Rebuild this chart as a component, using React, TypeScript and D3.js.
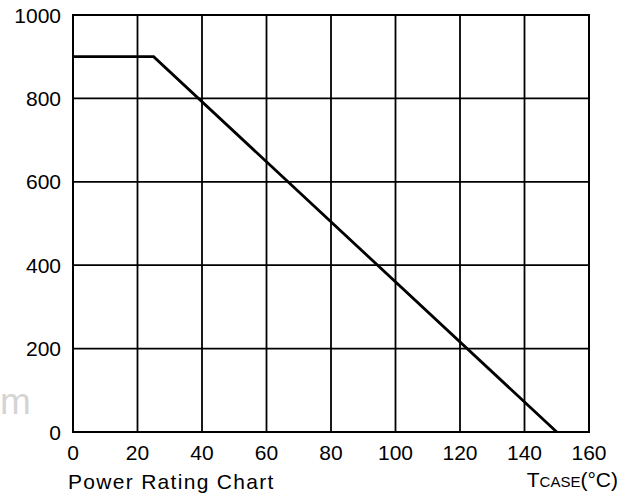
import React from "react";
import * as d3 from "d3";

const xTicks = [0, 20, 40, 60, 80, 100, 120, 140, 160];
const yTicks = [0, 200, 400, 600, 800, 1000];
const curveT = [0, 25, 150];
const curveP = [900, 900, 0];

const W = 620, H = 496;
const L = 73, R = 589, T = 15, B = 432;

export default function App() {
  const x = d3.scaleLinear().domain([0, 160]).range([L, R]);
  const y = d3.scaleLinear().domain([0, 1000]).range([B, T]);
  const pts: [number, number][] = curveT.map((t, i) => [t, curveP[i]]);
  const line = d3.line<[number, number]>().x(d => x(d[0])).y(d => y(d[1]));
  const font = "'Liberation Sans', Arial, sans-serif";
  return (
    <svg width={W} height={H} style={{ position: "absolute", left: 0, top: 0, background: "#fff" }}>
      <text x={0} y={414} fontFamily={font} fontSize={37} fill="#d4d4d4">m</text>
      {xTicks.map(t => (
        <line key={"gx" + t} x1={x(t)} x2={x(t)} y1={T} y2={B} stroke="#000" strokeWidth={1.8} />
      ))}
      {yTicks.map(t => (
        <line key={"gy" + t} x1={L} x2={R} y1={y(t)} y2={y(t)} stroke="#000" strokeWidth={1.8} />
      ))}
      <rect x={L} y={T} width={R - L} height={B - T} fill="none" stroke="#000" strokeWidth={2} />
      <path d={line(pts) || ""} fill="none" stroke="#000" strokeWidth={2.8} />
      {yTicks.map(t => (
        <text key={"ty" + t} x={61} y={y(t) + 7.5} textAnchor="end" fontFamily={font} fontSize={21} fill="#000">{t}</text>
      ))}
      {xTicks.map(t => (
        <text key={"tx" + t} x={x(t)} y={460} textAnchor="middle" fontFamily={font} fontSize={21} fill="#000">{t}</text>
      ))}
      <text x={68} y={489} fontFamily={font} fontSize={21} letterSpacing={1.3} fill="#000">Power Rating Chart</text>
      <text x={618} y={487} textAnchor="end" fontFamily={font} fontSize={21} fill="#000">
        <tspan>T</tspan><tspan fontSize={15}>CASE</tspan><tspan>(°C)</tspan>
      </text>
    </svg>
  );
}
